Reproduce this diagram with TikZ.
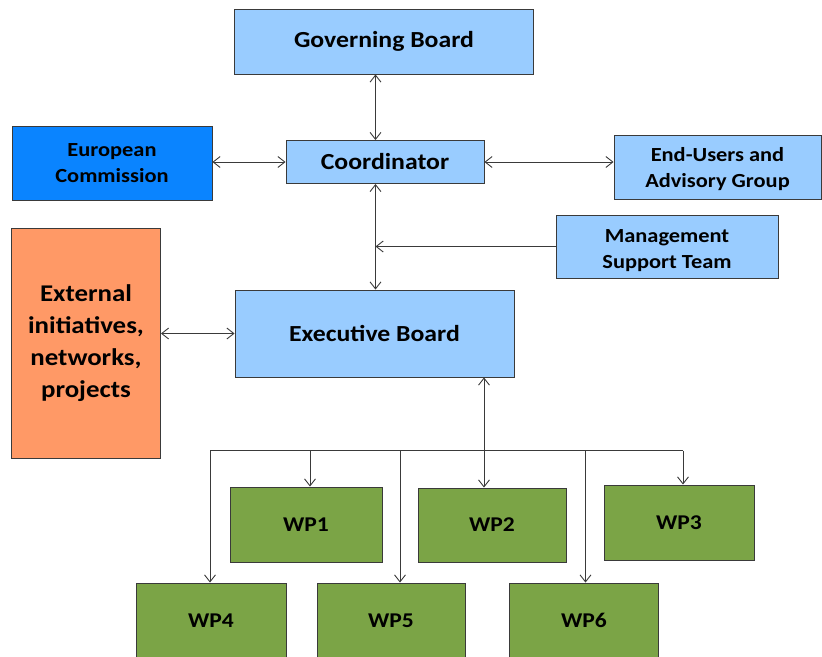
\documentclass[tikz,border=0pt]{standalone}
\usepackage{fontspec}
\setmainfont{Carlito}[FakeStretch=1.12]
\usetikzlibrary{arrows.meta}
\definecolor{lblue}{HTML}{99CCFF}
\definecolor{ecblue}{HTML}{0A84FF}
\definecolor{orng}{HTML}{FF9966}
\definecolor{wpgreen}{HTML}{7BA446}
\definecolor{edge}{HTML}{3A3A3A}
\begin{document}
\begin{tikzpicture}[x=1pt,y=-1pt,
  >={Straight Barb[length=7pt,width=11pt]},
  box/.style={draw=edge, line width=0.9pt, inner sep=0pt, align=center, font=\bfseries},
  bigtxt/.style={font=\fontsize{23}{28}\selectfont\bfseries},
  midtxt/.style={font=\fontsize{20}{26}\selectfont\bfseries},
  wptxt/.style={font=\fontsize{21}{26}\selectfont\bfseries},
  conn/.style={draw=edge, line width=0.9pt}
]
\useasboundingbox (0,0) rectangle (822,656);
\clip (0,0) rectangle (822,656);
% boxes
\node[box, bigtxt, fill=lblue, minimum width=299pt, minimum height=65pt] (gb) at (384,41.5) {Governing Board};
\node[box, midtxt, fill=ecblue, minimum width=200pt, minimum height=74pt] (ec) at (112,163) {European\\Commission};
\node[box, bigtxt, fill=lblue, minimum width=198pt, minimum height=43pt] (co) at (385,162) {Coordinator};
\node[box, midtxt, fill=lblue, minimum width=207pt, minimum height=64pt] (eu) at (717.5,167) {\rule{0pt}{19pt}End-Users and\\Advisory Group};
\node[box, midtxt, fill=lblue, minimum width=222pt, minimum height=63pt] (mg) at (667,246.5) {\rule{0pt}{22pt}Management\\Support Team};
\node[box, fill=orng, minimum width=149pt, minimum height=230pt, font=\fontsize{24}{32}\selectfont\bfseries] (ext) at (86,343.5) {External\\initiatives,\\networks,\\projects};
\node[box, bigtxt, fill=lblue, minimum width=279pt, minimum height=87pt] (ex) at (374.5,333.5) {Executive Board};
\node[box, wptxt, fill=wpgreen, minimum width=152pt, minimum height=75pt] (wp1) at (306,524.5) {WP1};
\node[box, wptxt, fill=wpgreen, minimum width=148pt, minimum height=74pt] (wp2) at (492,525) {WP2};
\node[box, wptxt, fill=wpgreen, minimum width=150pt, minimum height=75pt] (wp3) at (679,522.5) {WP3};
\node[box, wptxt, fill=wpgreen, minimum width=150pt, minimum height=75pt] (wp4) at (211,620.5) {WP4};
\node[box, wptxt, fill=wpgreen, minimum width=148pt, minimum height=75pt] (wp5) at (391,620.5) {WP5};
\node[box, wptxt, fill=wpgreen, minimum width=149pt, minimum height=75pt] (wp6) at (584,620.5) {WP6};
% helper coordinates
\coordinate (vx) at (375.5,0);
\coordinate (d2) at (484,0);
\coordinate (busL) at (210,450.5);
\coordinate (busR) at (683,450.5);
\coordinate (d1) at (310,0);
\coordinate (d5) at (400,0);
\coordinate (d6) at (585.5,0);
% connectors
\draw[conn, <->] (gb.south -| vx) -- (co.north -| vx);
\draw[conn, <->] (ec.east |- co) -- (co.west);
\draw[conn, <->] (co.east) -- (eu.west |- co);
\draw[conn, <->] (co.south -| vx) -- (ex.north -| vx);
\draw[conn, ->] (mg.west) -- (mg.west -| vx);
\draw[conn, <->] (ext.east |- ex) -- (ex.west);
\draw[conn, <->] (ex.south -| d2) -- (wp2.north -| d2);
\draw[conn] (busL) -- (busR);
\draw[conn, ->] (busL) -- (wp4.north -| busL);
\draw[conn, ->] (busL -| d1) -- (wp1.north -| d1);
\draw[conn, ->] (busL -| d5) -- (wp5.north -| d5);
\draw[conn, ->] (busL -| d6) -- (wp6.north -| d6);
\draw[conn, ->] (busR) -- (wp3.north -| busR);
\end{tikzpicture}
\end{document}
